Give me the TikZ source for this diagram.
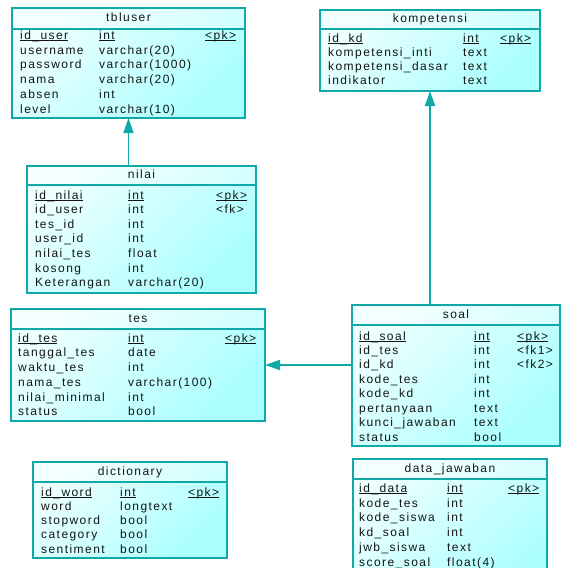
\documentclass[tikz,border=0pt]{standalone}
\usepackage{fontspec}
\setmainfont{Liberation Sans}[LetterSpace=12]
\usetikzlibrary{fit,arrows.meta}
\definecolor{erdline}{RGB}{16,168,168}
\definecolor{erdlight}{RGB}{238,255,255}
\definecolor{erddeep}{RGB}{170,255,255}
\newcommand\erdfont{\fontsize{12}{13}\selectfont}
\newcommand\erdul[1]{\setbox0\hbox{#1}\rlap{\rule[-1.6pt]{\wd0}{0.7pt}}\box0}
\tikzset{
  x=1pt, y=-1pt,
  tbl/.style={inner sep=0pt, outer sep=0pt, top color=erdlight, bottom color=erddeep, shading angle=45},
  tblborder/.style={draw=erdline, line width=1.3pt},
  hdrfill/.style={fill=white, fill opacity=0.35},
  ttl/.style={anchor=base, inner sep=0pt, font=\erdfont, text=black!92},
  cell/.style={anchor=base west, inner sep=0pt, font=\erdfont, text=black!92},
  fk/.style={draw=erdline, line width=1.5pt, -{Triangle[length=15pt,width=10pt]}},
}
% #1 name #2 L #3 T #4 R #5 B #6 header line #7 title
\newcommand\erdtab[7]{%
  \node[tbl, fit={(#2,#3) (#4,#5)}] (#1) {};
  \fill[hdrfill] (#2,#3) rectangle (#4,#6);
  \draw[tblborder] (#1.north west) rectangle (#1.south east);
  \draw[tblborder] (#2,#6) -- (#4,#6);
  \node[ttl] (#1-title) at ({(#2+#4)/2},{(#3+#6)/2+3}) {#7};
}
\newcommand\erdcols[3]{\def\cA{#1}\def\cB{#2}\def\cC{#3}}
% #1 node id  #2 baseline  #3 name  #4 type  #5 key
\newcommand\erdrow[5]{%
  \node[cell] (#1-n) at (\cA,#2) {#3};
  \node[cell] (#1-t) at (\cB,#2) {#4};
  \if\relax\detokenize{#5}\relax\else
  \node[cell] (#1-k) at (\cC,#2) {#5};\fi
}
\begin{document}
\begin{tikzpicture}
\useasboundingbox (0,0) rectangle (561,568);
\clip (0,0) rectangle (561,568);

% tbluser
\erdtab{tbluser}{12}{8}{245}{118}{29}{tbluser}
\erdcols{20}{99}{205}
\erdrow{u1}{39.5}{\erdul{id\_user}}{\erdul{int}}{\erdul{<pk>}}
\erdrow{u2}{54.2}{username}{varchar(20)}{}
\erdrow{u3}{68.9}{password}{varchar(1000)}{}
\erdrow{u4}{83.6}{nama}{varchar(20)}{}
\erdrow{u5}{98.3}{absen}{int}{}
\erdrow{u6}{113}{level}{varchar(10)}{}

% kompetensi
\erdtab{kompetensi}{320}{10}{540}{91}{29}{kompetensi}
\erdcols{328}{463}{500}
\erdrow{k1}{42}{\erdul{id\_kd}}{\erdul{int}}{\erdul{<pk>}}
\erdrow{k2}{56}{kompetensi\_inti}{text}{}
\erdrow{k3}{70.5}{kompetensi\_dasar}{text}{}
\erdrow{k4}{84.5}{indikator}{text}{}

% nilai
\erdtab{nilai}{27}{166}{256}{293}{185}{nilai}
\erdcols{35}{128}{216}
\erdrow{n1}{199}{\erdul{id\_nilai}}{\erdul{int}}{\erdul{<pk>}}
\erdrow{n2}{213.6}{id\_user}{int}{<fk>}
\erdrow{n3}{228.2}{tes\_id}{int}{}
\erdrow{n4}{242.8}{user\_id}{int}{}
\erdrow{n5}{257.4}{nilai\_tes}{float}{}
\erdrow{n6}{272}{kosong}{int}{}
\erdrow{n7}{286.6}{Keterangan}{varchar(20)}{}

% tes
\erdtab{tes}{11}{309}{265}{421}{329}{tes}
\erdcols{18}{128}{225}
\erdrow{t1}{342}{\erdul{id\_tes}}{\erdul{int}}{\erdul{<pk>}}
\erdrow{t2}{356.7}{tanggal\_tes}{date}{}
\erdrow{t3}{371.5}{waktu\_tes}{int}{}
\erdrow{t4}{386.2}{nama\_tes}{varchar(100)}{}
\erdrow{t5}{401}{nilai\_minimal}{int}{}
\erdrow{t6}{415.7}{status}{bool}{}

% soal
\erdtab{soal}{352}{305}{560}{446}{325}{soal}
\erdcols{359}{474}{517}
\erdrow{s1}{340}{\erdul{id\_soal}}{\erdul{int}}{\erdul{<pk>}}
\erdrow{s2}{354.4}{id\_tes}{int}{<fk1>}
\erdrow{s3}{368.9}{id\_kd}{int}{<fk2>}
\erdrow{s4}{383.3}{kode\_tes}{int}{}
\erdrow{s5}{397.7}{kode\_kd}{int}{}
\erdrow{s6}{412.1}{pertanyaan}{text}{}
\erdrow{s7}{426.6}{kunci\_jawaban}{text}{}
\erdrow{s8}{441}{status}{bool}{}

% dictionary
\erdtab{dictionary}{33}{462}{227}{558}{482}{dictionary}
\erdcols{41}{120}{188}
\erdrow{d1}{496}{\erdul{id\_word}}{\erdul{int}}{\erdul{<pk>}}
\erdrow{d2}{510.2}{word}{longtext}{}
\erdrow{d3}{524.5}{stopword}{bool}{}
\erdrow{d4}{538.8}{category}{bool}{}
\erdrow{d5}{553}{sentiment}{bool}{}

% data_jawaban
\erdtab{datajawaban}{353}{459}{547}{600}{479}{data\_jawaban}
\erdcols{359}{447}{508}
\erdrow{j1}{492.5}{\erdul{id\_data}}{\erdul{int}}{\erdul{<pk>}}
\erdrow{j2}{507.2}{kode\_tes}{int}{}
\erdrow{j3}{521.9}{kode\_siswa}{int}{}
\erdrow{j4}{536.6}{kd\_soal}{int}{}
\erdrow{j5}{551.3}{jwb\_siswa}{text}{}
\erdrow{j6}{566}{score\_soal}{float(4)}{}

% relations
\draw[fk] (nilai.north -| tbluser.south) -- (tbluser.south);
\draw[fk] (soal.north -| kompetensi.south) -- (kompetensi.south);
\draw[fk] (soal.west |- tes.east) -- (tes.east);
\end{tikzpicture}
\end{document}
